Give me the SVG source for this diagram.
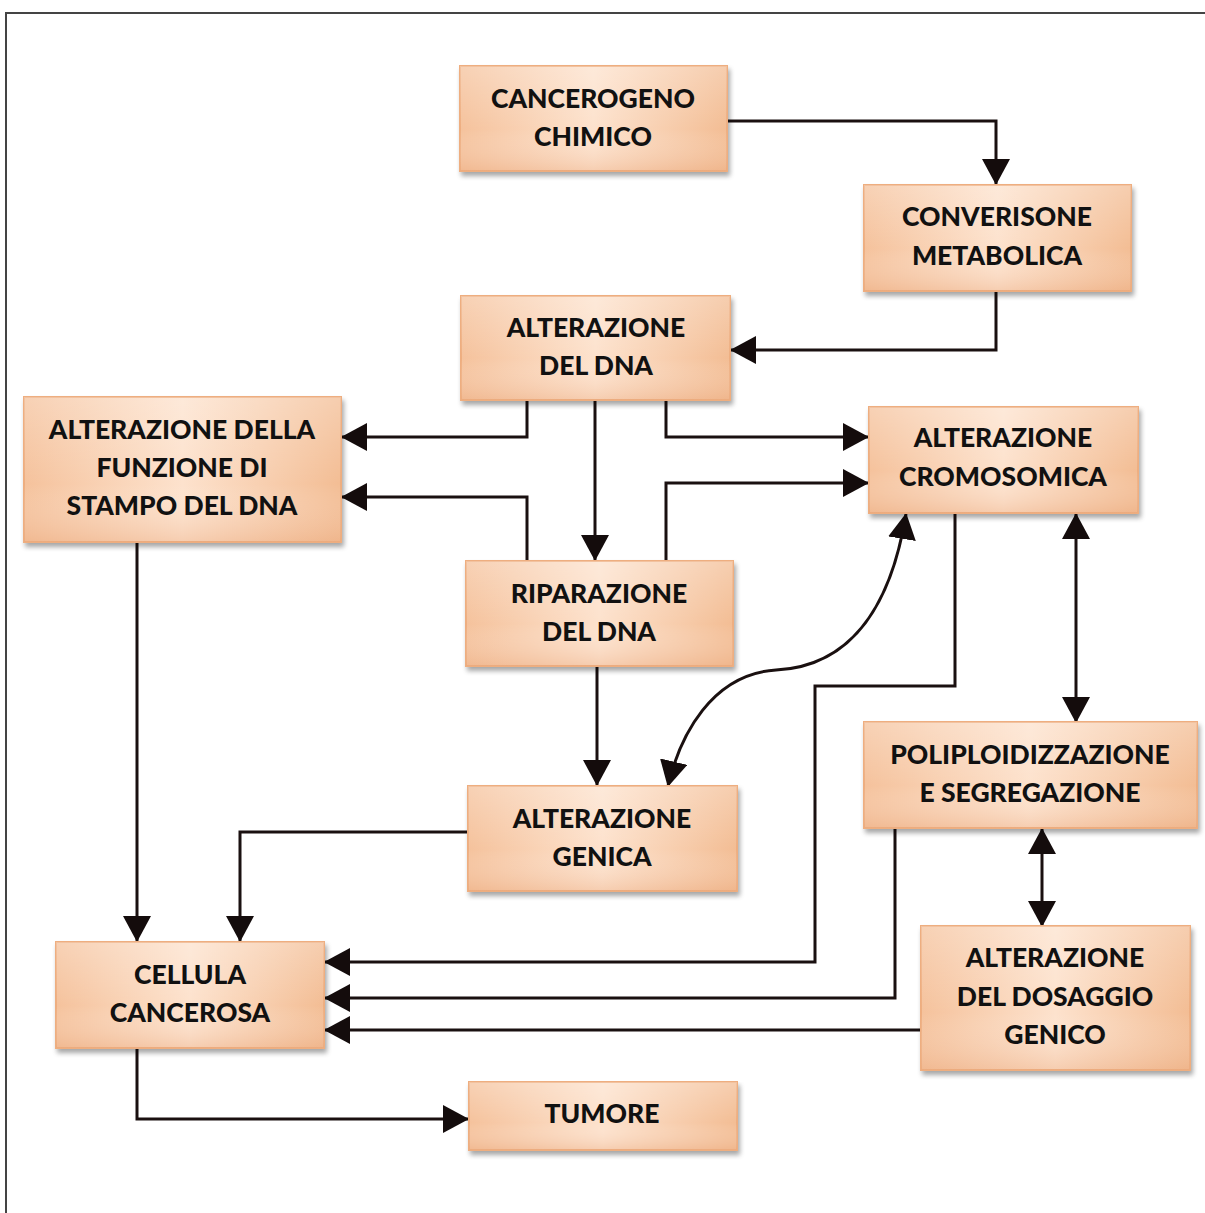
<svg xmlns="http://www.w3.org/2000/svg" width="1205" height="1213" viewBox="0 0 1205 1213">
<defs>
<linearGradient id="peach" x1="0" y1="0" x2="1" y2="0">
<stop offset="0" stop-color="#f5c29c"/>
<stop offset="0.5" stop-color="#fde2cd"/>
<stop offset="1" stop-color="#f3bd94"/>
</linearGradient>
<linearGradient id="peachV" x1="0" y1="0" x2="0" y2="1">
<stop offset="0" stop-color="#ffffff" stop-opacity="0.25"/>
<stop offset="0.6" stop-color="#ffffff" stop-opacity="0"/>
<stop offset="1" stop-color="#e9a67a" stop-opacity="0.35"/>
</linearGradient>
<filter id="sh" x="-5%" y="-5%" width="112%" height="120%">
<feGaussianBlur in="SourceAlpha" stdDeviation="2.5"/>
<feOffset dx="2" dy="4" result="b"/>
<feComponentTransfer><feFuncA type="linear" slope="0.35"/></feComponentTransfer>
<feMerge><feMergeNode/><feMergeNode in="SourceGraphic"/></feMerge>
</filter>
<marker id="ah" viewBox="0 0 26 28" refX="25" refY="14" markerWidth="26" markerHeight="28" markerUnits="userSpaceOnUse" orient="auto-start-reverse">
<path d="M0,0 L26,14 L0,28 Z" fill="#140c0c"/>
</marker>
</defs>
<style>
.box rect.b{fill:url(#peach);stroke:#eeae80;stroke-width:2;filter:url(#sh)}
.box rect.o{fill:url(#peachV);stroke:none}
.box text{font-family:"Lato","Liberation Sans",sans-serif;font-weight:900;font-size:26.5px;fill:#111;text-anchor:middle}
.c path{fill:none;stroke:#1a1010;stroke-width:3}
.frame{fill:none;stroke:#444;stroke-width:2}
</style>
<rect width="1205" height="1213" fill="#ffffff"/>
<path class="frame" d="M6,1213 L6,13 L1205,13"/>

<g class="c" id="connectors">
<path d="M727,121 H996 V184" marker-end="url(#ah)"/>
<path d="M996,291 V350 H731" marker-end="url(#ah)"/>
<path d="M527,400 V437 H342" marker-end="url(#ah)"/>
<path d="M595,400 V560" marker-end="url(#ah)"/>
<path d="M666,400 V437 H868" marker-end="url(#ah)"/>
<path d="M527,561 V497 H342" marker-end="url(#ah)"/>
<path d="M666,561 V483 H868" marker-end="url(#ah)"/>
<path d="M597,666 V785" marker-end="url(#ah)"/>
<path d="M906,514 C892,600 855,666 776,670 C712,674 680,735 668,786" marker-start="url(#ah)" marker-end="url(#ah)"/>
<path d="M1076,514 V722" marker-start="url(#ah)" marker-end="url(#ah)"/>
<path d="M1042,829 V926" marker-start="url(#ah)" marker-end="url(#ah)"/>
<path d="M955,513 V686 H815 V962 H325" marker-end="url(#ah)"/>
<path d="M895,828 V998 H325" marker-end="url(#ah)"/>
<path d="M921,1030 H325" marker-end="url(#ah)"/>
<path d="M468,832 H240 V941" marker-end="url(#ah)"/>
<path d="M137,542 V941" marker-end="url(#ah)"/>
<path d="M137,1048 V1119 H468" marker-end="url(#ah)"/>
</g>

<g class="box" id="cancerogeno">
<rect class="b" x="460" y="66" width="267" height="105"/><rect class="o" x="460" y="66" width="267" height="105"/>
<text x="593" y="108">CANCEROGENO</text><text x="593" y="146">CHIMICO</text>
</g>
<g class="box" id="conversione">
<rect class="b" x="864" y="185" width="267" height="106"/><rect class="o" x="864" y="185" width="267" height="106"/>
<text x="997" y="226">CONVERISONE</text><text x="997" y="265">METABOLICA</text>
</g>
<g class="box" id="alt-dna">
<rect class="b" x="461" y="296" width="269" height="104"/><rect class="o" x="461" y="296" width="269" height="104"/>
<text x="596" y="337">ALTERAZIONE</text><text x="596" y="375">DEL DNA</text>
</g>
<g class="box" id="alt-stampo">
<rect class="b" x="24" y="397" width="317" height="145"/><rect class="o" x="24" y="397" width="317" height="145"/>
<text x="182" y="439">ALTERAZIONE DELLA</text><text x="182" y="477">FUNZIONE DI</text><text x="182" y="515">STAMPO DEL DNA</text>
</g>
<g class="box" id="alt-cromosomica">
<rect class="b" x="869" y="407" width="269" height="106"/><rect class="o" x="869" y="407" width="269" height="106"/>
<text x="1003" y="447">ALTERAZIONE</text><text x="1003" y="486">CROMOSOMICA</text>
</g>
<g class="box" id="riparazione">
<rect class="b" x="466" y="561" width="267" height="105"/><rect class="o" x="466" y="561" width="267" height="105"/>
<text x="599" y="603">RIPARAZIONE</text><text x="599" y="641">DEL DNA</text>
</g>
<g class="box" id="alt-genica">
<rect class="b" x="468" y="786" width="269" height="105"/><rect class="o" x="468" y="786" width="269" height="105"/>
<text x="602" y="828">ALTERAZIONE</text><text x="602" y="866">GENICA</text>
</g>
<g class="box" id="poliploidizzazione">
<rect class="b" x="864" y="722" width="333" height="106"/><rect class="o" x="864" y="722" width="333" height="106"/>
<text x="1030" y="764">POLIPLOIDIZZAZIONE</text><text x="1030" y="802">E SEGREGAZIONE</text>
</g>
<g class="box" id="cellula">
<rect class="b" x="56" y="942" width="268" height="106"/><rect class="o" x="56" y="942" width="268" height="106"/>
<text x="190" y="984">CELLULA</text><text x="190" y="1022">CANCEROSA</text>
</g>
<g class="box" id="dosaggio">
<rect class="b" x="921" y="926" width="269" height="144"/><rect class="o" x="921" y="926" width="269" height="144"/>
<text x="1055" y="967">ALTERAZIONE</text><text x="1055" y="1006">DEL DOSAGGIO</text><text x="1055" y="1044">GENICO</text>
</g>
<g class="box" id="tumore">
<rect class="b" x="469" y="1082" width="268" height="68"/><rect class="o" x="469" y="1082" width="268" height="68"/>
<text x="602" y="1123">TUMORE</text>
</g>
</svg>
